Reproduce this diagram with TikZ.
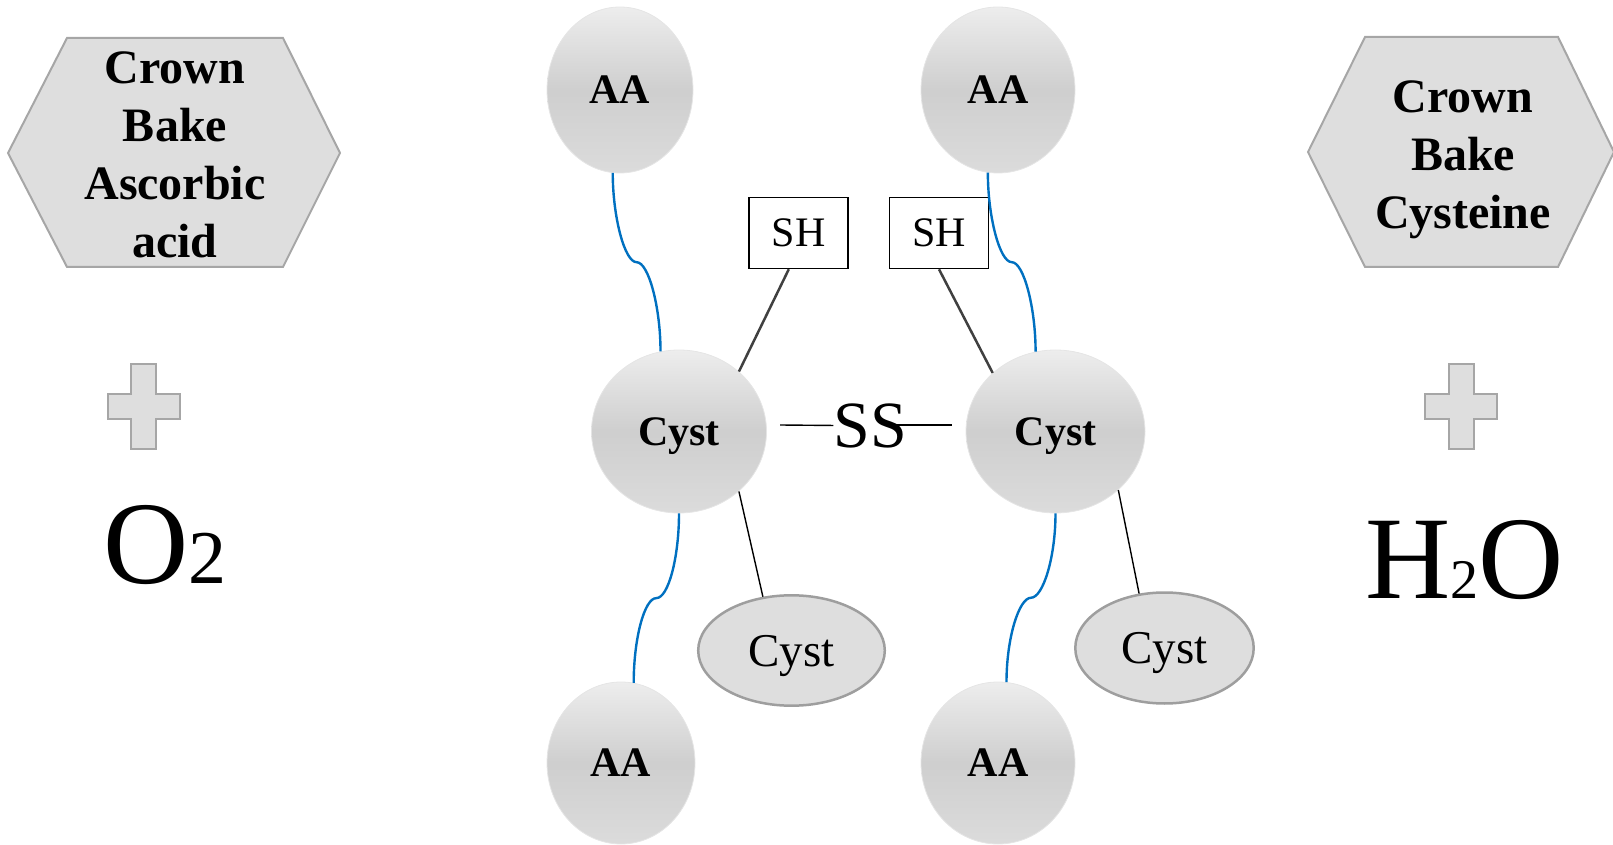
\documentclass[tikz,border=0pt]{standalone}
\usepackage{fontspec}
\setmainfont{Liberation Serif}
\usetikzlibrary{shapes.geometric,calc}
\definecolor{hexfill}{HTML}{DEDEDE}
\definecolor{hexline}{HTML}{A6A6A6}
\definecolor{bondblue}{HTML}{0070C0}
\definecolor{shgray}{HTML}{404040}
\tikzset{
	bead/.style={ellipse, inner sep=0pt, text depth=0pt, draw=black!10, line width=0.4pt, top color=black!7, bottom color=black!14, middle color=black!19, font=\fontsize{21}{25}\selectfont\bfseries},
	oval/.style={ellipse, inner sep=0pt, text depth=0pt, draw=hexline!95!black, line width=1.25pt, fill=hexfill, font=\fontsize{23.5}{28}\selectfont},
	hexa/.style={draw=hexline, line width=1pt, fill=hexfill},
	hextext/.style={align=center, inner sep=0pt, font=\fontsize{24}{29}\selectfont\bfseries},
	shbox/.style={draw, line width=0.75pt, minimum width=49.5pt, minimum height=35.5pt, inner sep=0pt, font=\fontsize{21}{25}\selectfont},
	bond/.style={draw=bondblue, line width=1.2pt},
	kinkA/.style={out distance=22pt, in distance=6pt},
	kinkB/.style={out distance=6pt, in distance=22pt},
	shlink/.style={draw=shgray, line width=1.25pt},
	cystlink/.style={draw=black, line width=0.7pt},
	formula/.style={inner sep=0pt, font=\fontsize{59}{62}\selectfont}
}
\begin{document}
\begin{tikzpicture}[x=0.5pt,y=-0.5pt]
	\useasboundingbox (0,0) rectangle (1613,845);
	
	% Define the vertices of the hexagons
	\coordinate (hL1) at (8,153);
	\coordinate (hL2) at (67,38);
	\coordinate (hL3) at (283,38);
	\coordinate (hL4) at (340,153);
	\coordinate (hL5) at (283,267);
	\coordinate (hL6) at (67,267);
	\coordinate (hR1) at (1308,152);
	\coordinate (hR2) at (1365,37);
	\coordinate (hR3) at (1558,37);
	\coordinate (hR4) at (1614,152);
	\coordinate (hR5) at (1558,267);
	\coordinate (hR6) at (1365,267);
	
	% Draw the hexagons
	\draw[hexa] (hL1) -- (hL2) -- (hL3) -- (hL4) -- (hL5) -- (hL6) -- cycle;
	\draw[hexa] (hR1) -- (hR2) -- (hR3) -- (hR4) -- (hR5) -- (hR6) -- cycle;
	\node[hextext] (ascorbic) at (175,154.5) {Crown\\Bake\\Ascorbic\\acid};
	\node[hextext] (cysteine) at (1463,159.5) {Crown\\Bake\\Cysteine};
	
	% Plus signs
	\foreach \px in {143.5,1461}{
		\draw[hexa] (\px-12.5,364) -- ++(25,0) -- ++(0,30.5) -- ++(23.5,0) -- ++(0,24.5) -- ++(-23.5,0) -- ++(0,30) -- ++(-25,0) -- ++(0,-30) -- ++(-23.5,0) -- ++(0,-24.5) -- ++(23.5,0) -- cycle;
	}
	\node[formula, anchor=base west] (oxygen) at (103,583) {O{\fontsize{38}{40}\selectfont 2}};
	\node[formula, anchor=base west] (water) at (1365,598) {H{\fontsize{28}{30}\selectfont 2}O};
	
	% Amino acids and cysteines
	\node[bead, minimum width=73pt, minimum height=83pt] (aaTL) at (620,90) {AA};
	\node[bead, minimum width=77pt, minimum height=83pt] (aaTR) at (998,90) {AA};
	\node[bead, minimum width=87.5pt, minimum height=81.5pt] (cystL) at (679,431.5) {Cyst};
	\node[bead, minimum width=89.5pt, minimum height=81.5pt] (cystR) at (1055.5,431.5) {Cyst};
	\node[bead, minimum width=74pt, minimum height=81pt] (aaBL) at (621,763) {AA};
	\node[bead, minimum width=77pt, minimum height=81pt] (aaBR) at (998,763) {AA};
	\node[oval, minimum width=93.3pt, minimum height=55.2pt] (ovL) at (791.5,650.5) {Cyst};
	\node[oval, minimum width=89.2pt, minimum height=55.5pt] (ovR) at (1164.5,648) {Cyst};
	\node[shbox] (shL) at (798.5,233) {SH};
	\node[shbox] (shR) at (939,233) {SH};
	
	% Peptide chain
	\coordinate (mTL) at ($(aaTL.-95)!.5!(cystL.103)$);
	\coordinate (mBL) at ($(cystL.-90)!.5!(aaBL.81)$);
	\coordinate (mTR) at ($(aaTR.-97)!.5!(cystR.104.5)$);
	\coordinate (mBR) at ($(cystR.-90)!.5!(aaBR.84)$);
	\draw[bond] (aaTL.-95) to[out=-90,in=180,kinkA] (mTL) to[out=0,in=90,kinkB] (cystL.103);
	\draw[bond] (cystL.-90) to[out=-90,in=0,kinkA] (mBL) to[out=180,in=90,kinkB] (aaBL.81);
	\draw[bond] (aaTR.-97) to[out=-90,in=180,kinkA] (mTR) to[out=0,in=90,kinkB] (cystR.104.5);
	\draw[bond] (cystR.-90) to[out=-90,in=0,kinkA] (mBR) to[out=180,in=90,kinkB] (aaBR.84);
	
	% Side links
	\draw[shlink] (shL.255) -- (cystL.45);
	\draw[shlink] (shR.south) -- (cystR.137);
	\draw[cystlink] (cystL.-45) -- (ovL.118);
	\draw[cystlink] (cystR.-43) -- (ovR.115);
	
	% Disulfide bridge
	\coordinate (ssA) at (780,425);
	\coordinate (ssB) at (895,425);
	\coordinate (ssC) at (952,425);
	\node[inner sep=0pt, anchor=base, font=\fontsize{33}{36}\selectfont] (ss) at (870.5,447) {SS};
	\draw[cystlink] (ssA) -- (ss.west);
	\draw[cystlink] (ssB) -- (ssC);
\end{tikzpicture}
\end{document}
